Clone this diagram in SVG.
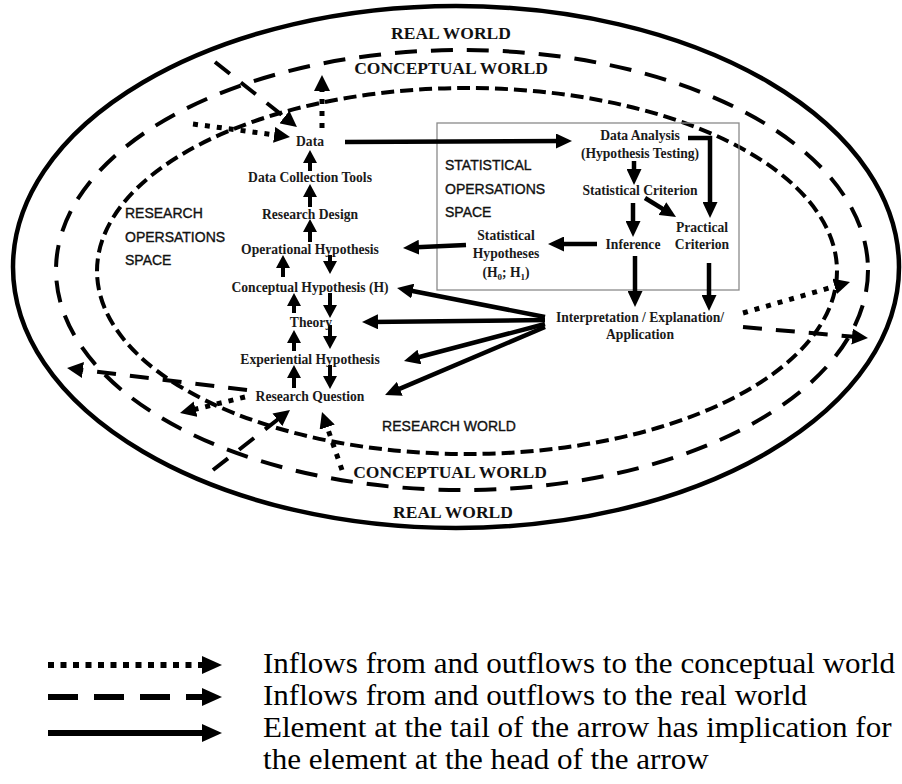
<svg xmlns="http://www.w3.org/2000/svg" width="902" height="784" viewBox="0 0 902 784">
<style>
.world{fill:none;stroke:#000}
.w-real{stroke-width:4.5}
.w-conc{stroke-width:4;stroke-dasharray:22 14}
.w-res{stroke-width:4;stroke-dasharray:13 6}
.box{fill:none;stroke:#8a8a8a;stroke-width:1.3}
.n{font-family:"Liberation Serif","Times New Roman",serif;font-weight:bold;font-size:13.6px;fill:#1a1a1a;text-anchor:middle}
.sub{font-size:9px}
.wl{font-family:"Liberation Serif","Times New Roman",serif;font-weight:bold;font-size:17.5px;fill:#111;text-anchor:middle}
.sp{font-family:"Liberation Sans",Arial,sans-serif;font-size:14px;fill:#111;stroke:#111;stroke-width:0.35}
.lg{font-family:"Liberation Serif","Times New Roman",serif;font-size:28.5px;fill:#000}
.c{fill:none;stroke:#000;stroke-linecap:butt;stroke-linejoin:miter}
.sm{stroke-width:4;marker-end:url(#mS)}
.big{stroke-width:4.5;marker-end:url(#mB)}
.dash{stroke-width:4;stroke-dasharray:19 14;marker-end:url(#mD)}
.dot{stroke-width:5;stroke-dasharray:5 7;marker-end:url(#mD)}
.lgl{stroke-width:6;marker-end:url(#mL)}
</style>
<defs>
<marker id="mS" viewBox="0 0 13 14" markerWidth="13" markerHeight="14" refX="5" refY="7" orient="auto" markerUnits="userSpaceOnUse"><path d="M0,0L13,7L0,14z" fill="#000"/></marker>
<marker id="mB" viewBox="0 0 16 15" markerWidth="16" markerHeight="15" refX="8" refY="7.5" orient="auto" markerUnits="userSpaceOnUse"><path d="M0,0L16,7.5L0,15z" fill="#000"/></marker>
<marker id="mD" viewBox="0 0 16 16" markerWidth="16" markerHeight="16" refX="8" refY="8" orient="auto" markerUnits="userSpaceOnUse"><path d="M0,0L16,8L0,16z" fill="#000"/></marker>
<marker id="mL" viewBox="0 0 20 18" markerWidth="20" markerHeight="18" refX="10" refY="9" orient="auto" markerUnits="userSpaceOnUse"><path d="M0,0L20,9L0,18z" fill="#000"/></marker>
</defs>
<rect width="902" height="784" fill="#fff"/>

<g id="worlds">
<ellipse id="real-world" class="world w-real" cx="456" cy="267" rx="443" ry="261"/>
<ellipse id="conceptual-world" class="world w-conc" cx="462" cy="270" rx="406" ry="220"/>
<ellipse id="research-world" class="world w-res" cx="467" cy="271" rx="370" ry="183"/>
<rect id="statistical-space" class="box" x="437" y="123" width="302" height="167"/>
</g>

<g id="world-labels">
<text class="wl" x="451" y="39">REAL WORLD</text>
<text class="wl" x="451" y="74">CONCEPTUAL WORLD</text>
<text class="wl" x="450" y="478">CONCEPTUAL WORLD</text>
<text class="wl" x="453" y="518">REAL WORLD</text>
<text class="sp" x="449" y="431" text-anchor="middle">RESEARCH WORLD</text>
<text class="sp" x="125" y="218">RESEARCH</text>
<text class="sp" x="125" y="242">OPERSATIONS</text>
<text class="sp" x="125" y="265">SPACE</text>
<text class="sp" x="445" y="170">STATISTICAL</text>
<text class="sp" x="445" y="194">OPERSATIONS</text>
<text class="sp" x="445" y="217">SPACE</text>
</g>

<g id="connectors">
<!-- research chain -->
<path class="c sm" d="M310,171V158"/>
<path class="c sm" d="M310,207V192"/>
<path class="c sm" d="M310,242V227"/>
<path class="c sm" d="M283,277V263"/>
<path class="c sm" d="M294,313V301"/>
<path class="c sm" d="M294,351V338"/>
<path class="c sm" d="M294,388V373"/>
<path class="c sm" d="M330,255V266"/>
<path class="c sm" d="M330,293V310"/>
<path class="c sm" d="M330,325V341"/>
<path class="c sm" d="M330,365V381"/>
<!-- solid implications -->
<path class="c big" d="M345,142L564,141"/>
<path class="c big" d="M466,245L411,247.6"/>
<path class="c big" d="M597,244H556"/>
<path class="c big" d="M634,161V177"/>
<path class="c big" d="M688,138H710V210"/>
<path class="c big" d="M645,198L669.2,212.8"/>
<path class="c big" d="M633,203V229"/>
<path class="c big" d="M635,256V299"/>
<path class="c big" d="M709,263V303"/>
<path class="c big" d="M545,317L404.9,289.5"/>
<path class="c big" d="M545,320L370,321.9"/>
<path class="c big" d="M545,324L411.7,359"/>
<path class="c big" d="M545,327L392.4,391.9"/>
<!-- real world flows -->
<path class="c dash" d="M215,62L290.7,122"/>
<path class="c dash" d="M743,327L860,337.3"/>
<path class="c dash" d="M247,390L75,369"/>
<path class="c dash" d="M213,470L283.7,414.9"/>
<!-- conceptual world flows -->
<path class="c dot" d="M193,124L282.1,135.9"/>
<path class="c dot" d="M322,128V83"/>
<path class="c dot" d="M743,313L842.3,284.2"/>
<path class="c dot" d="M245,397L187.8,411.1"/>
<path class="c dot" d="M342,470L324.6,419.6"/>
</g>

<g id="node-data"><text class="n" x="310" y="146">Data</text></g>
<g id="node-data-collection-tools"><text class="n" x="310" y="182">Data Collection Tools</text></g>
<g id="node-research-design"><text class="n" x="310" y="219">Research Design</text></g>
<g id="node-operational-hypothesis"><text class="n" x="310" y="254">Operational Hypothesis</text></g>
<g id="node-conceptual-hypothesis"><text class="n" x="310" y="292">Conceptual Hypothesis (H)</text></g>
<g id="node-theory"><text class="n" x="311" y="327">Theory</text></g>
<g id="node-experiential-hypothesis"><text class="n" x="310" y="364">Experiential Hypothesis</text></g>
<g id="node-research-question"><text class="n" x="310" y="401">Research Question</text></g>
<g id="node-data-analysis"><text class="n" x="640" y="140">Data Analysis</text><text class="n" x="640" y="158">(Hypothesis Testing)</text></g>
<g id="node-statistical-criterion"><text class="n" x="640" y="195">Statistical Criterion</text></g>
<g id="node-practical-criterion"><text class="n" x="702" y="232">Practical</text><text class="n" x="702" y="249">Criterion</text></g>
<g id="node-inference"><text class="n" x="633" y="249">Inference</text></g>
<g id="node-statistical-hypotheses"><text class="n" x="506" y="240">Statistical</text><text class="n" x="506" y="258">Hypotheses</text><text class="n" x="506" y="277">(H<tspan class="sub" dy="3">0</tspan><tspan dy="-3">; H</tspan><tspan class="sub" dy="3">1</tspan><tspan dy="-3">)</tspan></text></g>
<g id="node-interpretation"><text class="n" x="640" y="322">Interpretation / Explanation/</text><text class="n" x="640" y="339">Application</text></g>

<g id="legend">
<path class="c lgl" d="M48,665H212" stroke-dasharray="6 6.5"/>
<path class="c lgl" d="M48,697H212" stroke-dasharray="30 16"/>
<path class="c lgl" d="M48,733H212"/>
<text class="lg" transform="translate(263,673) scale(1.09,1)">Inflows from and outflows to the conceptual world</text>
<text class="lg" transform="translate(263,705) scale(1.09,1)">Inflows from and outflows to the real world</text>
<text class="lg" transform="translate(263,737) scale(1.09,1)">Element at the tail of the arrow has implication for</text>
<text class="lg" transform="translate(263,769) scale(1.09,1)">the element at the head of the arrow</text>
</g>
</svg>
